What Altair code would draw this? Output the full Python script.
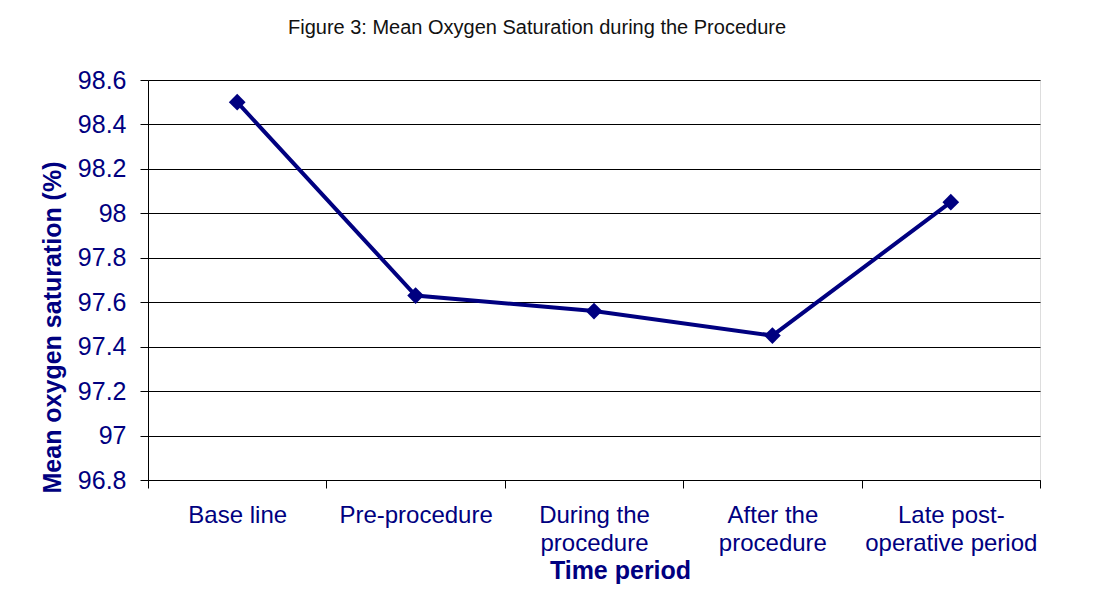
import altair as alt
import pandas as pd

# ---- data ----
periods = ["Base line", "Pre-procedure", "During the|procedure", "After the|procedure", "Late post-|operative period"]
saturation = [98.5, 97.63, 97.56, 97.45, 98.05]
y_ticks = [96.8, 97.0, 97.2, 97.4, 97.6, 97.8, 98.0, 98.2, 98.4, 98.6]

NAVY = "#000080"
FONT = "Liberation Sans"

df = pd.DataFrame({"period": periods, "saturation": saturation})

x_enc = alt.X(
    "period:N",
    sort=periods,
    scale=alt.Scale(type="band", paddingInner=0, paddingOuter=0),
    axis=alt.Axis(
        title="Time period",
        titleFont=FONT, titleFontSize=25, titleFontWeight="bold", titleColor=NAVY,
        titleX=472, titleY=90, titleAlign="center", titleBaseline="middle",
        labelExpr="split(datum.label, '|')",
        labelAngle=0, labelFont=FONT, labelFontSize=24, labelColor=NAVY,
        labelLineHeight=28, labelPadding=15, labelBaseline="top", labelLimit=0,
        tickBand="extent", ticks=True, tickColor="black", tickSize=8, tickWidth=1,
        domain=True, domainColor="black", domainWidth=1, grid=False,
    ),
)

y_enc = alt.Y(
    "saturation:Q",
    scale=alt.Scale(domain=[96.8, 98.6], nice=False, zero=False),
    axis=alt.Axis(
        values=y_ticks, format="~f",
        title="Mean oxygen saturation (%)",
        titleFont=FONT, titleFontSize=25, titleFontWeight="bold", titleColor=NAVY,
        titleX=-96, titleY=247, titleAngle=-90, titleAlign="center", titleBaseline="middle",
        labelFont=FONT, labelFontSize=25, labelColor=NAVY, labelPadding=14,
        grid=True, gridColor="black", gridOpacity=1, gridWidth=1,
        ticks=True, tickColor="black", tickSize=8, tickWidth=1,
        domain=True, domainColor="black", domainWidth=1,
    ),
)

line = alt.Chart(df).mark_line(color=NAVY, strokeWidth=4).encode(x=x_enc, y=y_enc)
points = alt.Chart(df).mark_point(shape="diamond", filled=True, size=280, color=NAVY, opacity=1).encode(
    x=alt.X("period:N", sort=periods), y="saturation:Q"
)

chart = (
    alt.layer(line, points)
    .properties(
        width=892,
        height=400,
        title=alt.TitleParams(
            "Figure 3: Mean Oxygen Saturation during the Procedure",
            font=FONT, fontSize=20, fontWeight="normal", color="#111111",
            anchor="middle", dx=-57, offset=14, baseline="alphabetic",
        ),
        autosize=alt.AutoSizeParams(type="none"),
        padding={"left": 140, "top": 72, "right": 47, "bottom": 106},
    )
    .configure_view(stroke="black", strokeWidth=1)
    .configure(background="white")
)

chart.save("out.html", embed_options={"renderer": "svg", "actions": False})
